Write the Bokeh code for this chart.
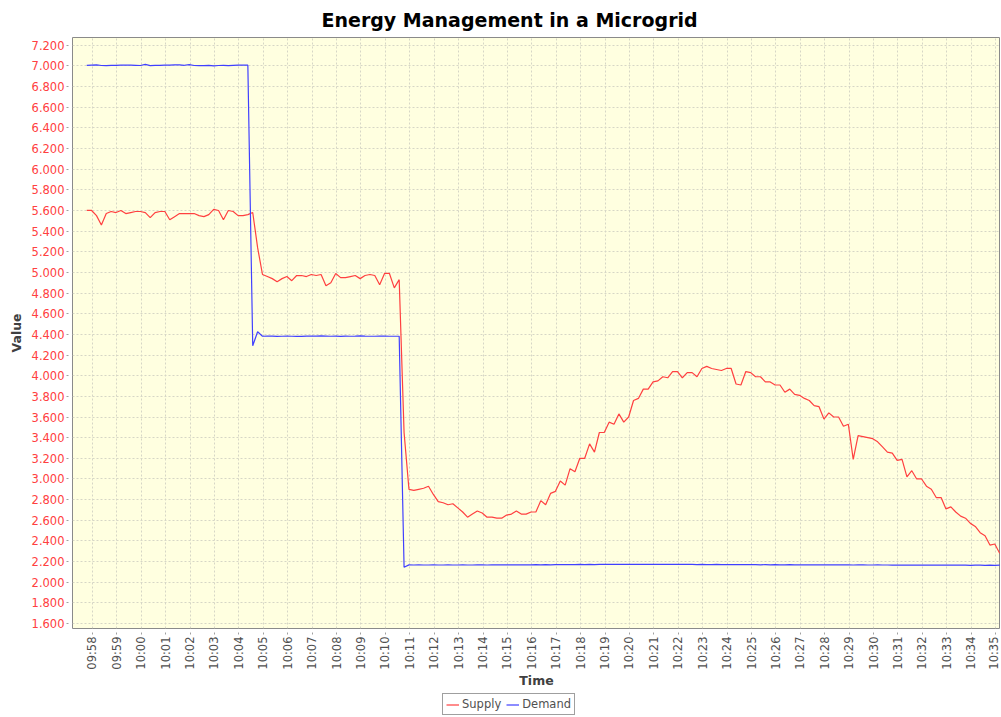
import math
import pandas as pd
from bokeh.plotting import figure
from bokeh.layouts import column
from bokeh.models import (FixedTicker, DatetimeTickFormatter, Legend, LegendItem,
                          Range1d)
from bokeh.embed import file_html
from bokeh.resources import INLINE

# ---------------- data ----------------
day = "2024-01-01"
start_time = "09:57:46"
step_seconds = 12

supply = [
    # 09:57:46 - 10:04:34
    5.60, 5.60, 5.55, 5.46, 5.57, 5.59, 5.58, 5.60, 5.57, 5.58,
    5.59, 5.59, 5.58, 5.53, 5.58, 5.59, 5.59, 5.51, 5.54, 5.57,
    5.57, 5.57, 5.57, 5.55, 5.54, 5.56, 5.61, 5.60, 5.51, 5.60,
    5.59, 5.55, 5.55, 5.56, 5.58,
    5.24,
    # second level
    4.98, 4.96, 4.94, 4.91, 4.94, 4.96, 4.92, 4.97, 4.97, 4.96,
    4.98, 4.97, 4.98, 4.87, 4.90, 4.99, 4.95, 4.95, 4.96, 4.97,
    4.94, 4.97, 4.98, 4.97, 4.88, 4.99, 4.99, 4.85, 4.93,
    3.45,
    # third phase
    2.90, 2.89, 2.90, 2.91, 2.93, 2.85, 2.78, 2.77, 2.75, 2.76,
    2.72, 2.68, 2.63, 2.66, 2.69, 2.67, 2.63, 2.63, 2.62, 2.62,
    2.65, 2.66, 2.69, 2.66, 2.66, 2.68, 2.68, 2.79, 2.75, 2.86,
    2.88, 2.98, 2.94, 3.10, 3.07, 3.20, 3.20, 3.34, 3.26, 3.45,
    3.45, 3.55, 3.53, 3.63, 3.55, 3.60, 3.76, 3.78, 3.87, 3.87,
    3.94, 3.95, 3.99, 3.98, 4.04, 4.04, 3.98, 4.03, 4.03, 3.99,
    4.07, 4.09, 4.07, 4.06, 4.05, 4.07, 4.07, 3.92, 3.91, 4.04,
    4.03, 3.99, 3.99, 3.94, 3.94, 3.91, 3.91, 3.84, 3.87, 3.82,
    3.81, 3.78, 3.76, 3.71, 3.70, 3.58, 3.64, 3.60, 3.60, 3.51,
    3.53, 3.19, 3.42, 3.41, 3.40, 3.39, 3.36, 3.31, 3.26, 3.25,
    3.18, 3.19, 3.02, 3.08, 3.00, 3.00, 2.93, 2.90, 2.82, 2.82,
    2.71, 2.73, 2.68, 2.64, 2.62, 2.57, 2.54, 2.48, 2.45, 2.36,
    2.37, 2.28,
]

demand = [
    7.005, 7.008, 7.010, 7.004, 7.003, 7.005, 7.006, 7.008, 7.007, 7.008,
    7.006, 7.004, 7.014, 7.003, 7.005, 7.006, 7.008, 7.008, 7.010, 7.009,
    7.006, 7.012, 7.004, 7.002, 7.003, 7.005, 7.000, 7.004, 7.005, 7.002,
    7.006, 7.008, 7.007, 7.007,
    4.29, 4.425,
    4.382, 4.384, 4.383, 4.381, 4.382, 4.384, 4.382, 4.380, 4.381, 4.383,
    4.384, 4.383, 4.385, 4.384, 4.382, 4.383, 4.381, 4.384, 4.382, 4.383,
    4.385, 4.383, 4.382, 4.382, 4.384, 4.383, 4.382, 4.382, 4.382,
    2.145,
    2.168, 2.167, 2.168, 2.167, 2.167, 2.168, 2.167, 2.167, 2.168, 2.167,
    2.167, 2.168, 2.167, 2.167, 2.168, 2.168, 2.167, 2.168, 2.168, 2.169,
    2.168, 2.169, 2.169, 2.168, 2.169, 2.169, 2.170, 2.169, 2.170, 2.169,
    2.170, 2.171, 2.170, 2.171, 2.171, 2.172, 2.171, 2.172, 2.171, 2.172,
    2.172, 2.173, 2.172, 2.172, 2.173, 2.172, 2.173, 2.172, 2.173, 2.173,
    2.172, 2.173, 2.172, 2.173, 2.172, 2.172, 2.173, 2.172, 2.172, 2.171,
    2.172, 2.171, 2.171, 2.172, 2.171, 2.171, 2.170, 2.171, 2.170, 2.171,
    2.170, 2.170, 2.169, 2.170, 2.169, 2.170, 2.169, 2.169, 2.170, 2.169,
    2.169, 2.168, 2.169, 2.169, 2.168, 2.169, 2.168, 2.168, 2.169, 2.168,
    2.168, 2.167, 2.168, 2.168, 2.167, 2.167, 2.168, 2.167, 2.167, 2.166,
    2.167, 2.166, 2.166, 2.167, 2.166, 2.166, 2.165, 2.166, 2.166, 2.165,
    2.165, 2.166, 2.165, 2.165, 2.165, 2.164, 2.165, 2.165, 2.164, 2.165,
    2.164, 2.165,
]

series_names = ["Supply", "Demand"]
series_colors = ["#FF4040", "#4040FF"]

x_tick_labels = [
    "09:58", "09:59", "10:00", "10:01", "10:02", "10:03", "10:04", "10:05",
    "10:06", "10:07", "10:08", "10:09", "10:10", "10:11", "10:12", "10:13",
    "10:14", "10:15", "10:16", "10:17", "10:18", "10:19", "10:20", "10:21",
    "10:22", "10:23", "10:24", "10:25", "10:26", "10:27", "10:28", "10:29",
    "10:30", "10:31", "10:32", "10:33", "10:34", "10:35",
]
y_tick_values = [1.6, 1.8, 2.0, 2.2, 2.4, 2.6, 2.8, 3.0, 3.2, 3.4, 3.6, 3.8,
                 4.0, 4.2, 4.4, 4.6, 4.8, 5.0, 5.2, 5.4, 5.6, 5.8, 6.0, 6.2,
                 6.4, 6.6, 6.8, 7.0, 7.2]
y_tick_labels = ["1.600", "1.800", "2.000", "2.200", "2.400", "2.600", "2.800",
                 "3.000", "3.200", "3.400", "3.600", "3.800", "4.000", "4.200",
                 "4.400", "4.600", "4.800", "5.000", "5.200", "5.400", "5.600",
                 "5.800", "6.000", "6.200", "6.400", "6.600", "6.800", "7.000",
                 "7.200"]
x_range_start = "09:57:11"
x_range_end = "10:35:12"
y_range_start = 1.552
y_range_end = 7.275

# ---------------- build ----------------
times = pd.date_range(f"{day} {start_time}", periods=len(supply),
                      freq=f"{step_seconds}s")
series_values = [supply, demand]

def to_ms(ts):
    return float(pd.Timestamp(ts).value // 10**6)

x_ticks = [to_ms(f"{day} {lab}") for lab in x_tick_labels]

p = figure(frame_width=928, frame_height=591, x_axis_type="datetime",
           x_range=Range1d(pd.Timestamp(f"{day} {x_range_start}"),
                           pd.Timestamp(f"{day} {x_range_end}")),
           y_range=Range1d(y_range_start, y_range_end),
           output_backend="svg", toolbar_location=None,
           title="Energy Management in a Microgrid",
           min_border_left=72, min_border_right=0,
           min_border_top=37, min_border_bottom=65)

p.background_fill_color = "#FFFFE0"
p.border_fill_color = "white"
p.outline_line_color = "#8a8a8a"
p.outline_line_width = 1

p.title.text_font = "DejaVu Sans"
p.title.text_font_size = "19px"
p.title.text_font_style = "bold"
p.title.text_color = "black"
p.title.align = "left"
p.title.offset = 249
p.title.standoff = 13

xt = FixedTicker(ticks=x_ticks)
p.xaxis.ticker = xt
p.xgrid.ticker = xt
p.xaxis.formatter = DatetimeTickFormatter(
    milliseconds="%H:%M", seconds="%H:%M", minsec="%H:%M", minutes="%H:%M",
    hourmin="%H:%M", hours="%H:%M")
p.xaxis.major_label_overrides = {t: lab for t, lab in zip(x_ticks, x_tick_labels)}
p.xaxis.major_label_orientation = math.pi / 2

yt = FixedTicker(ticks=y_tick_values)
p.yaxis.ticker = yt
p.ygrid.ticker = yt
p.yaxis.major_label_overrides = {v: lab for v, lab in zip(y_tick_values, y_tick_labels)}

for ax in (p.xaxis[0], p.yaxis[0]):
    ax.axis_line_color = None
    ax.major_tick_in = -4
    ax.major_tick_out = 6
    ax.major_tick_line_color = "#a0a0a0"
    ax.minor_tick_line_color = None
    ax.major_label_standoff = 2
    ax.major_label_text_font = "DejaVu Sans"
    ax.major_label_text_font_size = "11.5px"
    ax.axis_label_text_font = "DejaVu Sans"
    ax.axis_label_text_font_size = "12.5px"
    ax.axis_label_text_font_style = "bold"
    ax.axis_label_text_color = "#404040"

p.xaxis.major_label_text_color = "#505050"
p.yaxis.major_label_text_color = "#FF4040"
p.xaxis.axis_label = "Time"
p.yaxis.axis_label = "Value"
p.xaxis.axis_label_standoff = 0
p.yaxis.axis_label_standoff = 5

for g in (p.xgrid[0], p.ygrid[0]):
    g.grid_line_color = "#d6d6c6"
    g.grid_line_dash = "2 2"
    g.grid_line_width = 1

for vals, col in zip(series_values, series_colors):
    p.line(times, vals, line_color=col, line_width=1.2)

# ---------------- legend strip (separate small figure) ----------------
# same series drawn on a strip whose ranges keep the lines out of view;
# only the legend of this strip is visible
lg = figure(width=1000, height=23, output_backend="svg", toolbar_location=None,
            x_range=Range1d(0, 1), y_range=Range1d(0, 1),
            x_axis_location=None, y_axis_location=None,
            min_border_left=0, min_border_right=0,
            min_border_top=0, min_border_bottom=0)
lg.grid.visible = False
lg.outline_line_color = None
lg.background_fill_color = "white"
lg.border_fill_color = "white"

items = []
for name, vals, col in zip(series_names, series_values, series_colors):
    r = lg.line(times, vals, line_color=col, line_width=1.2)
    items.append(LegendItem(label=name, renderers=[r]))

legend = Legend(items=items, orientation="horizontal", location=(370, 1))
legend.margin = 0
legend.padding = 3
legend.spacing = 5
legend.label_standoff = 3
legend.glyph_width = 13
legend.glyph_height = 13
legend.label_height = 13
legend.label_text_font = "DejaVu Sans"
legend.label_text_font_size = "11.5px"
legend.label_text_color = "#505050"
legend.border_line_color = "#404040"
legend.border_line_width = 1
legend.background_fill_color = "white"
legend.background_fill_alpha = 1
lg.add_layout(legend, "center")

layout = column(p, lg, spacing=0)
open("out.html", "w").write(file_html(layout, INLINE))
